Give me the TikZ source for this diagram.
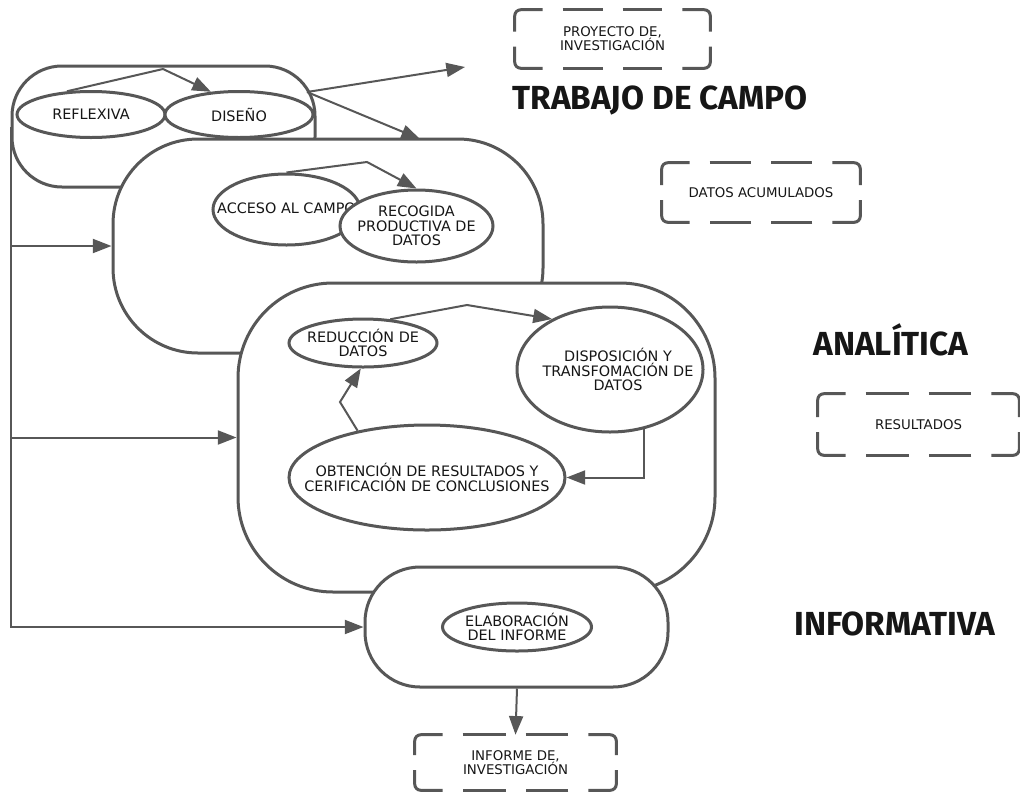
\documentclass[tikz,border=0pt]{standalone}
\usepackage{fontspec}
\setmainfont{DejaVu Sans}
\newfontfamily\titlefont{Fira Sans}
\usetikzlibrary{arrows.meta,shapes.geometric,calc}
\definecolor{lc}{HTML}{575757}
\definecolor{tc}{HTML}{161616}
\newcommand{\dashframe}[1]{%
  \draw[dfr] ($(#1.west)+(0,-7.5)$) -- (#1.north west) -- ($(#1.north west)+(28,0)$);
  \draw[dfr] ($(#1.north west)+(48,0)$) -- ($(#1.north)+(-10,0)$);
  \draw[dfr] ($(#1.north)+(10,0)$) -- ($(#1.north east)+(-48,0)$);
  \draw[dfr] ($(#1.north east)+(-28,0)$) -- (#1.north east) -- ($(#1.east)+(0,-7.5)$);
  \draw[dfr] ($(#1.east)+(0,7.5)$) -- (#1.south east) -- ($(#1.south east)+(-28,0)$);
  \draw[dfr] ($(#1.south east)+(-48,0)$) -- ($(#1.south)+(10,0)$);
  \draw[dfr] ($(#1.south)+(-10,0)$) -- ($(#1.south west)+(48,0)$);
  \draw[dfr] ($(#1.south west)+(28,0)$) -- (#1.south west) -- ($(#1.west)+(0,7.5)$);
}
\tikzset{
  cont/.style={draw=lc, line width=2.25pt, fill=white, rectangle, inner sep=0pt},
  ell/.style={draw=lc, line width=2.25pt, fill=white, ellipse, inner sep=0pt},
  txt/.style={text=tc, align=center, inner sep=0pt, font=\fontsize{10.8}{11}\selectfont},
  dbox/.style={draw=none, inner sep=0pt, text=tc, align=center, font=\fontsize{10}{10.6}\selectfont},
  dfr/.style={draw=lc, line width=2.25pt, rounded corners=4.5pt},
  conn/.style={draw=lc, line width=1.5pt, -{Triangle[length=14pt,width=10.5pt]}},
  title/.style={text=tc, inner sep=0pt, font=\titlefont\fontsize{25}{27}\selectfont\bfseries}
}
\begin{document}
\begin{tikzpicture}[x=0.75pt, y=-0.75pt]
\useasboundingbox (0,0) rectangle (1020,793);

% ---- box 1
\node[cont, minimum width=227.25pt, minimum height=90.75pt, rounded corners=37.5pt] (b1) at (163.5,126.5) {};
\node[ell, minimum width=111pt, minimum height=34.5pt, label={[txt]center:REFLEXIVA}] (refl) at (91,114.5) {};
\node[ell, minimum width=111pt, minimum height=34.5pt, label={[txt]center:DISEÑO}] (dis) at (239,114.5) {};
\coordinate (k1) at (163,69);
\draw[conn] (refl.136) -- (k1) -- (dis.141);

% ---- box 2
\node[cont, minimum width=322.5pt, minimum height=160.5pt, rounded corners=63.75pt] (b2) at (328,246) {};
\node[ell, minimum width=110.25pt, minimum height=53.25pt, label={[txt,yshift=1pt]center:ACCESO AL CAMPO}] (acc) at (286.5,209.5) {};
\node[ell, minimum width=114.75pt, minimum height=54pt, label={[txt]center:RECOGIDA\\PRODUCTIVA DE\\DATOS}] (rec) at (416.5,226) {};
\coordinate (k2) at (367,162);
\draw[conn] (acc.north) -- (k2) -- (rec.north);

% ---- arrows leaving box 1
\coordinate (b1out) at (307,92);
\coordinate (pend) at (465,67);
\coordinate (b2in) at (420,139);
\draw[conn] (b1out) -- (pend);
\draw[conn] (b1out) -- (b2in);

% ---- box 3
\node[cont, minimum width=357.75pt, minimum height=231.75pt, rounded corners=71.25pt] (b3) at (476.5,437.5) {};
\node[ell, minimum width=111pt, minimum height=36pt, label={[txt]center:REDUCCIÓN DE\\DATOS}] (red) at (363,343) {};
\node[ell, minimum width=139.5pt, minimum height=93.75pt, label={[txt,xshift=6pt]center:DISPOSICIÓN Y\\TRANSFOMACIÓN DE\\DATOS}] (disp) at (610,369.5) {};
\node[ell, minimum width=207pt, minimum height=78.75pt, label={[txt]center:OBTENCIÓN DE RESULTADOS Y\\CERIFICACIÓN DE CONCLUSIONES}] (obt) at (427,477.5) {};
\coordinate (k3) at (467,305);
\coordinate (k4) at (340,402);
\draw[conn] (red.41) -- (k3) -- (disp.139);
\draw[conn] (disp.-60.5) |- (obt.east);
\draw[conn] (obt.146.6) -- (k4) -- (red.265);

% ---- box 4
\node[cont, minimum width=227.25pt, minimum height=90pt, rounded corners=41.25pt] (b4) at (516.5,627) {};
\node[ell, minimum width=111.75pt, minimum height=36pt, label={[txt]center:ELABORACIÓN\\DEL INFORME}] (elab) at (517,627) {};

% ---- dashed boxes
\node[dbox, minimum width=146.25pt, minimum height=43.5pt] (proj) at (612.5,39) {PROYECTO DE,\\INVESTIGACIÓN};
\dashframe{proj}
\node[dbox, minimum width=148.5pt, minimum height=44.25pt] (datos) at (761,192.5) {DATOS ACUMULADOS};
\dashframe{datos}
\node[dbox, minimum width=150.75pt, minimum height=45.75pt] (res) at (918.5,424.5) {RESULTADOS};
\dashframe{res}
\node[dbox, minimum width=150.75pt, minimum height=41.25pt] (inf) at (515.5,762.5) {INFORME DE,\\INVESTIGACIÓN};
\dashframe{inf}

\draw[conn] (b4.south -| elab.south) -- (inf.north);

% ---- feedback lines
\draw[conn] (b1.west) |- (b4.west);
\draw[conn] (b1.west |- b2.west) -- (b2.west);
\draw[conn] (b1.west |- b3.west) -- (b3.west);

% ---- titles
\node[title] (t1) at (660,100) {TRABAJO DE CAMPO};
\node[title] (t2) at (891,340) {ANALÍTICA};
\node[title] (t3) at (895,624) {INFORMATIVA};
\end{tikzpicture}
\end{document}
